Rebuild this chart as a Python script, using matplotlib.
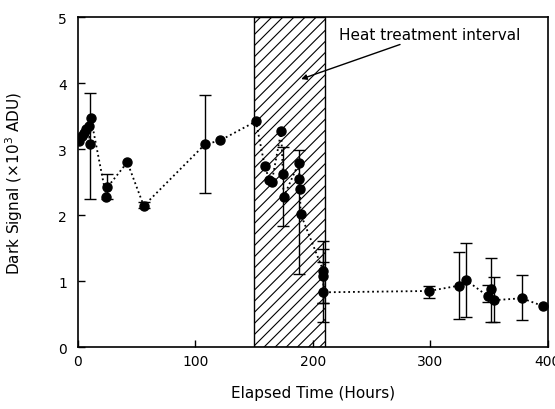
import numpy as np
import matplotlib.pyplot as plt
from matplotlib.patches import Rectangle

# measurement times (hours) and dark signal (x10^3 ADU)
hours = [1, 3, 5, 7, 9, 10, 11, 24, 25, 42, 56, 108, 121,
         151.5, 159, 163, 165, 173, 174.5, 175, 188, 188.5, 189, 189.5,
         209, 209, 209, 299, 324, 330, 349, 352, 354, 378, 396]
signal = [3.12, 3.2, 3.25, 3.3, 3.35, 3.07, 3.47, 2.28, 2.42, 2.8, 2.14, 3.07, 3.13,
          3.42, 2.74, 2.53, 2.5, 3.27, 2.62, 2.27, 2.79, 2.55, 2.4, 2.02,
          1.15, 1.08, 0.83, 0.85, 0.93, 1.02, 0.77, 0.88, 0.71, 0.74, 0.62]

# error bars: (hours, low, high)
err_hours = [10, 25, 56, 108, 174.5, 188.5, 209, 209, 209, 299, 324, 330, 349, 352, 354, 378]
err_low = [2.24, 2.25, 2.1, 2.33, 1.83, 1.1, 0.67, 0.38, 0.67, 0.75, 0.42, 0.45, 0.68, 0.38, 0.38, 0.41]
err_high = [3.85, 2.62, 2.2, 3.82, 3.03, 2.98, 1.61, 1.48, 1.29, 0.93, 1.44, 1.57, 0.94, 1.35, 1.06, 1.09]
err_mid = [3.07, 2.42, 2.14, 3.07, 2.62, 2.55, 1.15, 1.08, 0.83, 0.85, 0.93, 1.02, 0.77, 0.88, 0.71, 0.74]

heat_start, heat_end = 150, 210

plt.rcParams['hatch.linewidth'] = 0.8

fig = plt.figure(figsize=(5.55, 4.1), dpi=100)
ax = fig.add_axes([0.1405, 0.151, 0.8465, 0.805])

ax.add_patch(Rectangle((heat_start, 0), heat_end - heat_start, 5, facecolor='white',
                       edgecolor='black', hatch='///', linewidth=1.0, zorder=1))

mid = np.array(err_mid)
yerr = [mid - np.array(err_low), np.array(err_high) - mid]
ax.errorbar(err_hours, err_mid, yerr=yerr, fmt='none', ecolor='black',
            elinewidth=1.0, capsize=4, capthick=1.0, zorder=2)

ax.plot(hours, signal, color='black', linestyle=':', linewidth=1.3,
        marker='o', markersize=6.5, zorder=3)

ax.annotate('Heat treatment interval', xy=(190, 4.06), xytext=(222, 4.74),
            fontsize=11, va='center', ha='left',
            arrowprops=dict(arrowstyle='-|>', color='black', lw=1.0,
                            shrinkA=0, shrinkB=0, mutation_scale=8))

ax.set_xlim(0, 400)
ax.set_ylim(0, 5)
ax.set_xticks([0, 100, 200, 300, 400])
ax.set_yticks([0, 1, 2, 3, 4, 5])
ax.tick_params(direction='in', length=5, width=1, labelsize=10, top=False, right=False)
ax.tick_params(axis='y', pad=8)
ax.tick_params(axis='x', pad=5)
for s in ax.spines.values():
    s.set_linewidth(1.2)

ax.set_xlabel('Elapsed Time (Hours)', fontsize=11, labelpad=12)
ax.set_ylabel(r'Dark Signal ($\times$10$^3$ ADU)', fontsize=11, labelpad=24)

fig.savefig('out.png', dpi=100)
